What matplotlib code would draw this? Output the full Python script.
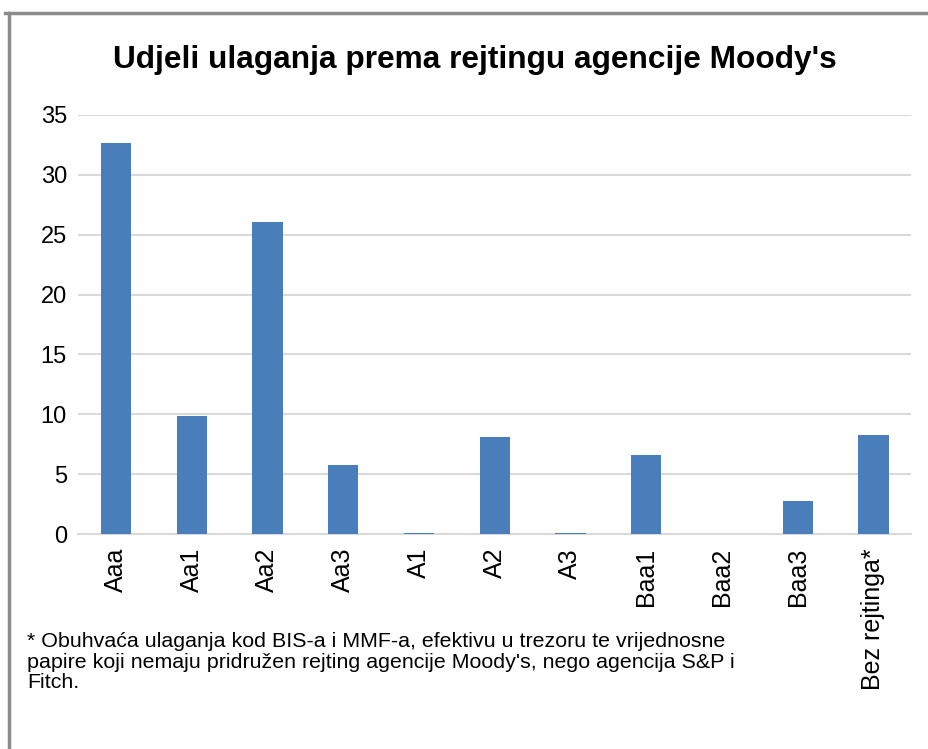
# Udjeli ulaganja prema rejtingu agencije Moody's - bar chart
import numpy as np
import matplotlib
matplotlib.use('Agg')
import matplotlib.pyplot as plt
from matplotlib.lines import Line2D

plt.rcParams['font.family'] = ['Liberation Sans', 'DejaVu Sans']

# data
ratings = ['Aaa', 'Aa1', 'Aa2', 'Aa3', 'A1', 'A2', 'A3', 'Baa1', 'Baa2', 'Baa3', 'Bez rejtinga*']
shares = [32.7, 9.85, 26.05, 5.75, 0.1, 8.1, 0.1, 6.6, 0.0, 2.75, 8.3]
yticks = [0, 5, 10, 15, 20, 25, 30, 35]

title = "Udjeli ulaganja prema rejtingu agencije Moody's"
note = ("* Obuhvaća ulaganja kod BIS-a i MMF-a, efektivu u trezoru te vrijednosne\n"
        "papire koji nemaju pridružen rejting agencije Moody's, nego agencija S&P i\n"
        "Fitch.")

fig = plt.figure(figsize=(9.29, 7.49), dpi=100)
ax = fig.add_axes([0.084, 0.287, 0.897, 0.5595])

x = np.arange(len(ratings))
ax.bar(x, shares, width=0.4, color='#4a7ebb', zorder=3)

ax.set_xlim(-0.5, len(ratings) - 0.5)
ax.set_ylim(0, 35)
ax.set_yticks(yticks)
ax.set_yticklabels([str(v) for v in yticks], fontsize=17)
ax.set_xticks(x)
ax.set_xticklabels(ratings, rotation=90, fontsize=18)
ax.tick_params(axis='both', length=0)
ax.tick_params(axis='y', pad=8)
ax.tick_params(axis='x', pad=10)
ax.grid(axis='y', color='#d9d9d9', linewidth=1.5, zorder=0)
for s in ['top', 'right', 'left']:
    ax.spines[s].set_visible(False)
ax.spines['bottom'].set_color('#d9d9d9')
ax.spines['bottom'].set_linewidth(1.5)

fig.text(0.511, 0.92, title, fontsize=22.8, fontweight='bold', ha='center', va='center')
fig.text(0.029, 0.116, note, fontsize=15.4, ha='left', va='center', linespacing=1.1)

# grey frame (top and left edges only visible)
fig.add_artist(Line2D([0.005, 1.0], [0.983, 0.983], color='#8c8c8c', linewidth=2.5))
fig.add_artist(Line2D([0.010, 0.010], [0.0, 0.983], color='#8c8c8c', linewidth=2.5))

fig.savefig('out.png', dpi=100)
